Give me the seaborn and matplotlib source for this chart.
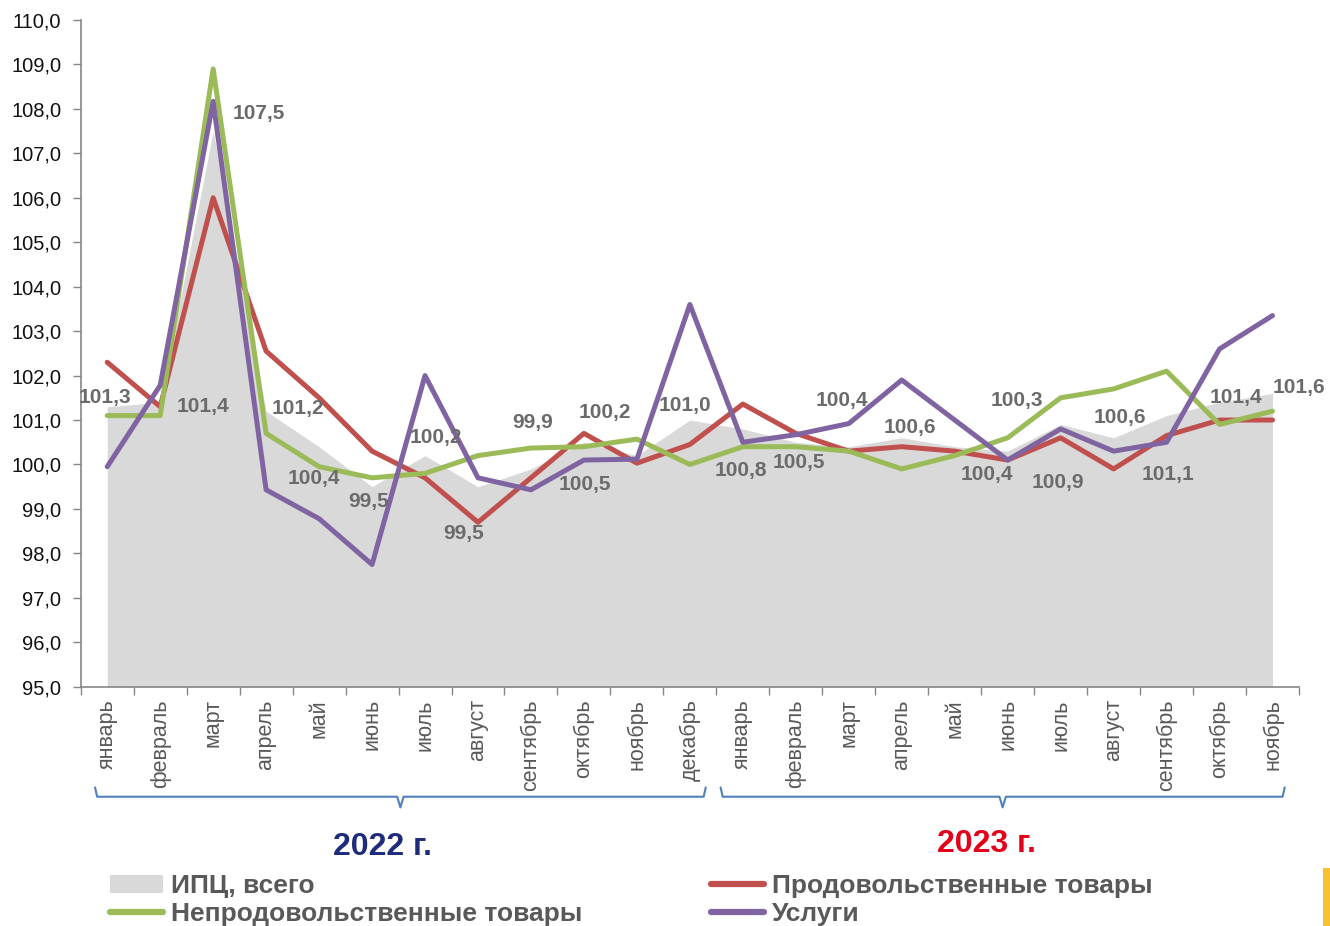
import numpy as np
import pandas as pd
import seaborn as sns
import matplotlib.pyplot as plt
from matplotlib.patches import Patch, Rectangle
from matplotlib.lines import Line2D
from matplotlib.ticker import FuncFormatter, FixedLocator
import matplotlib.transforms as mtransforms

months_2022 = ['январь', 'февраль', 'март', 'апрель', 'май', 'июнь', 'июль',
               'август', 'сентябрь', 'октябрь', 'ноябрь', 'декабрь']
months_2023 = ['январь', 'февраль', 'март', 'апрель', 'май', 'июнь', 'июль',
               'август', 'сентябрь', 'октябрь', 'ноябрь']

cpi = [101.3, 101.4, 107.5, 101.2, 100.4, 99.5, 100.2, 99.5, 99.9, 100.5, 100.2, 101.0,
       100.8, 100.5, 100.4, 100.6, 100.4, 100.3, 100.9, 100.6, 101.1, 101.4, 101.6]
food = [102.3, 101.3, 106.0, 102.55, 101.5, 100.3, 99.7, 98.7, 99.7, 100.7, 100.03, 100.45,
        101.36, 100.7, 100.3, 100.4, 100.3, 100.1, 100.6, 99.9, 100.65, 101.0, 101.0]
nonfood = [101.1, 101.1, 108.9, 100.7, 99.95, 99.7, 99.8, 100.2, 100.37, 100.4, 100.57, 100.0,
           100.4, 100.4, 100.3, 99.9, 100.2, 100.6, 101.5, 101.7, 102.1, 100.9, 101.2]
services = [99.95, 101.78, 108.17, 99.43, 98.78, 97.75, 102.0, 99.7, 99.43, 100.1, 100.12, 103.6,
            100.5, 100.67, 100.92, 101.9, 101.0, 100.1, 100.8, 100.3, 100.5, 102.6, 103.35]

series_names = ['Продовольственные товары', 'Непродовольственные товары', 'Услуги']
series_colors = ['#C0504D', '#9BBB59', '#8064A2']

# label offsets (pixels) for the CPI data labels
label_dx = [-2, 43, 46, 32, -5, -3, 11, -14, 2, 1, -32, -5,
            -2, 3, -7, 8, 32, 9, -3, 6, 1, 16, 26]
label_dy = [9, -4, 18, 3, -32, -15, 18, -47, 46, -42, 43, 15,
            -42, -20, 46, 10, -28, 51, -58, 20, -59, 5, 6]

labels = months_2022 + months_2023
x = np.arange(len(labels))

df = pd.DataFrame({
    'x': np.tile(x, 3),
    'value': food + nonfood + services,
    'series': np.repeat(series_names, len(x)),
})

sns.set_theme(style='white')
plt.rcParams['font.family'] = ['Liberation Sans', 'DejaVu Sans']

fig = plt.figure(figsize=(13.3, 9.26), dpi=100)
ax = fig.add_axes([0.0607, 0.2584, 0.9160, 0.7200])

ax.fill_between(x, 95, cpi, color='#D9D9D9', linewidth=0, zorder=1)
sns.lineplot(data=df, x='x', y='value', hue='series', hue_order=series_names,
             palette=series_colors, linewidth=3.6, legend=False, ax=ax, zorder=3,
             solid_capstyle='round', solid_joinstyle='round')

for i, v in enumerate(cpi):
    ax.annotate(f'{v:.1f}'.replace('.', ','), (x[i], v),
                xytext=(label_dx[i], label_dy[i]), textcoords='offset pixels',
                ha='center', va='center', fontsize=15, fontweight='bold',
                color='#6B6B6B', zorder=5)

ax.set_xlim(-0.5, len(x) - 0.5)
ax.set_ylim(95, 110)
ax.set_yticks(np.arange(95, 110.1, 1))
ax.yaxis.set_major_formatter(FuncFormatter(lambda v, p: f'{v:.1f}'.replace('.', ',')))
ax.tick_params(axis='y', direction='out', length=6, width=1, color='#868686',
               labelsize=14.5, labelcolor='#111111', pad=8, left=True)

ax.xaxis.set_major_locator(FixedLocator(np.arange(-0.5, len(x), 1)))
ax.xaxis.set_minor_locator(FixedLocator(x))
ax.set_xticklabels([], minor=False)
ax.set_xticklabels(labels, minor=True, rotation=90, va='top', ha='center')
ax.tick_params(axis='x', which='major', direction='out', length=6, width=1,
               color='#868686', bottom=True)
ax.tick_params(axis='x', which='minor', length=0, labelsize=15.5,
               labelcolor='#595959', pad=9)
ax.set_xlabel('')
ax.set_ylabel('')

for s in ['top', 'right']:
    ax.spines[s].set_visible(False)
for s in ['left', 'bottom']:
    ax.spines[s].set_color('#868686')
    ax.spines[s].set_linewidth(1.2)

# year brackets under the axis
trans = mtransforms.blended_transform_factory(ax.transData, ax.transAxes)
brace_color = '#4F81BD'
for x0, x1 in [(-0.23, 11.3), (11.58, 22.23)]:
    xc = (x0 + x1) / 2
    bx = [x0, x0 + 0.04, xc - 0.06, xc, xc + 0.06, x1 - 0.04, x1]
    by = [-0.151, -0.165, -0.165, -0.181, -0.165, -0.165, -0.151]
    ax.plot(bx, by, color=brace_color, lw=1.5, transform=trans, clip_on=False)

year_font = ['Liberation Sans Narrow', 'Liberation Sans', 'DejaVu Sans']
ax.text(5.2, -0.24, '2022 г.', transform=trans, ha='center', va='center',
        fontsize=23, fontweight='bold', color='#1F2C7C', family=year_font)
ax.text(16.6, -0.236, '2023 г.', transform=trans, ha='center', va='center',
        fontsize=23, fontweight='bold', color='#E2001A', family=year_font)

handles = [Patch(facecolor='#D9D9D9', edgecolor='none'),
           Line2D([0], [0], color=series_colors[1], lw=4.5, solid_capstyle='round'),
           Line2D([0], [0], color=series_colors[0], lw=4.5, solid_capstyle='round'),
           Line2D([0], [0], color=series_colors[2], lw=4.5, solid_capstyle='round')]
leg_labels = ['ИПЦ, всего', series_names[1], series_names[0], series_names[2]]
fig.legend(handles, leg_labels, loc='upper left', bbox_to_anchor=(0.0827, 0.056),
           ncol=2, frameon=False, borderpad=0, borderaxespad=0,
           handlelength=2.0, handletextpad=0.3, columnspacing=4.9, labelspacing=0.16,
           prop={'family': year_font, 'weight': 'bold', 'size': 19},
           labelcolor='#595959')

fig.patches.append(Rectangle((0.9947, 0.0), 0.0053, 0.0626, transform=fig.transFigure,
                             facecolor='#F9C12E', edgecolor='none'))

fig.savefig('out.png', dpi=100)
